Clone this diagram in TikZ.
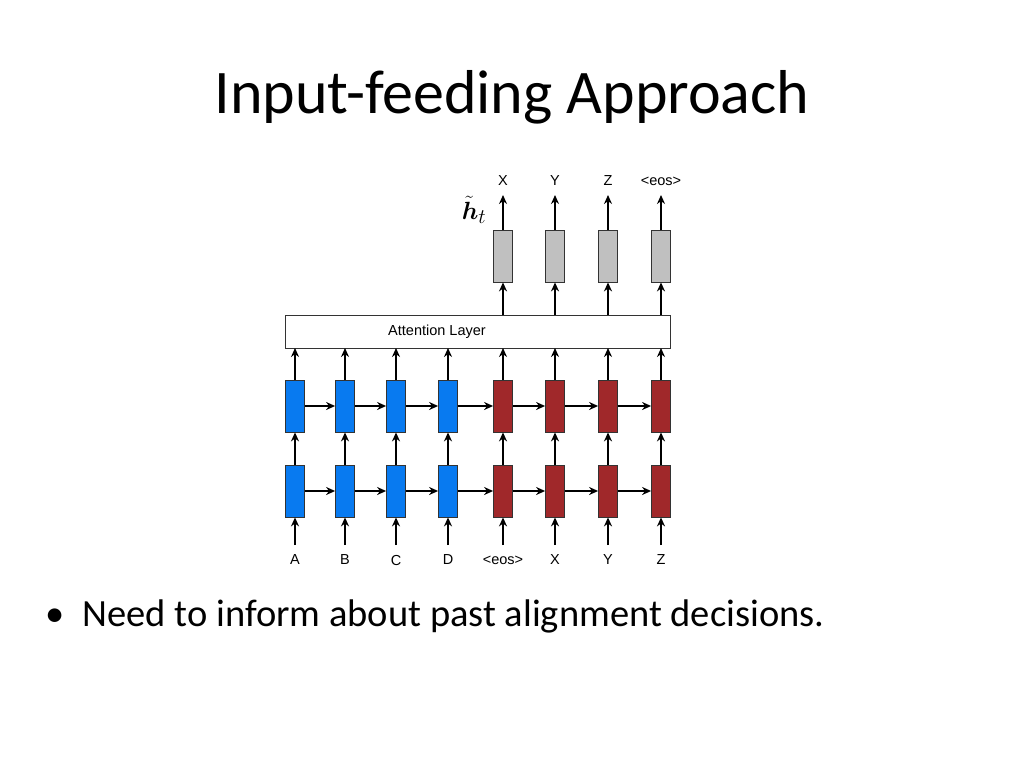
\documentclass[tikz,border=0pt]{standalone}
\usepackage{amsmath}
\usepackage{bm}
\usepackage{fontspec}
\setmainfont{Carlito}
\setsansfont{Liberation Sans}
\usetikzlibrary{arrows.meta}
\definecolor{bl}{RGB}{8,122,240}
\definecolor{rd}{RGB}{160,40,42}
\definecolor{gr}{RGB}{192,192,192}
\tikzset{cell/.style={draw=black!80,line width=0.8pt,minimum width=19pt,minimum height=52pt,inner sep=0pt},
arr/.style={-{Stealth[length=9pt,width=8pt]},line width=1.4pt},
lab/.style={font=\sffamily\fontsize{14.5}{16}\selectfont,inner sep=1pt}}
\begin{document}
\begin{tikzpicture}[x=1pt,y=-1pt]
\useasboundingbox (0,0) rectangle (1024,768);
\node[font=\fontsize{62}{68}\selectfont] (title) at (512,97) {Input-feeding Approach};
\node[draw=black!80,line width=0.8pt,minimum width=385pt,minimum height=33pt,inner sep=0pt] (att) at (477.5,331.5) {};
\node[lab] (attl) at (437,332) {Attention Layer};
\foreach \i/\x/\c/\b/\t in {1/295/bl/A/,2/345/bl/B/,3/396/bl/C/,4/448/bl/D/,5/503/rd/{<eos>}/X,6/555/rd/X/Y,7/608/rd/Y/Z,8/661/rd/Z/{<eos>}}{
  \node[cell,fill=\c] (b\i) at (\x,491) {};
  \node[cell,fill=\c] (u\i) at (\x,406) {};
  \node[lab] (in\i) at (\x,560) {\b};
  \coordinate (bs\i) at (\x,545);
  \coordinate (at\i) at (\x,348);
  \draw[arr] (bs\i) -- (b\i.south);
  \draw[arr] (b\i.north) -- (u\i.south);
  \draw[arr] (u\i.north) -- (at\i);
}
\foreach \i/\x/\t in {5/503/X,6/555/Y,7/608/Z,8/661/{<eos>}}{
  \node[cell,fill=gr] (g\i) at (\x,256) {};
  \coordinate (ab\i) at (\x,315);
  \node[lab] (out\i) at (\x,181) {\t};
  \coordinate (ot\i) at (\x,195);
  \draw[arr] (ab\i) -- (g\i.south);
  \draw[arr] (g\i.north) -- (ot\i);
}
\foreach \i [evaluate=\i as \j using int(\i+1)] in {1,...,7}{
  \draw[arr] (b\i.east) -- (b\j.west);
  \draw[arr] (u\i.east) -- (u\j.west);
}
\node[font=\fontsize{28}{30}\selectfont,inner sep=0pt] (ht) at (474,210) {$\tilde{\bm{h}}_t$};
\node[font=\fontsize{38.5}{42}\selectfont,anchor=west] (bul) at (42,616) {•\hspace{18pt}Need to inform about past alignment decisions.};
\end{tikzpicture}
\end{document}
